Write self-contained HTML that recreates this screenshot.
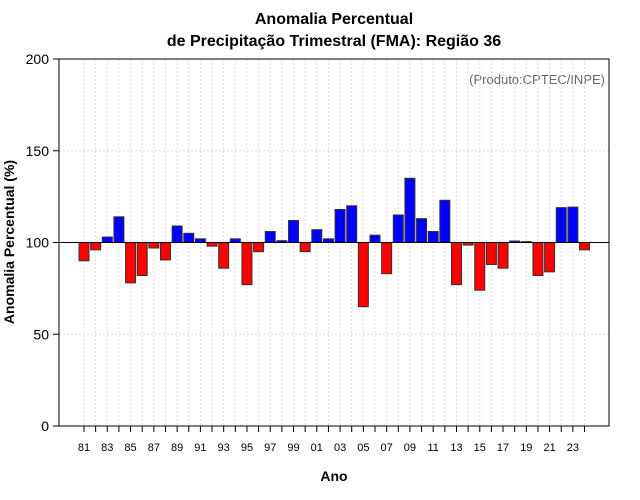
<!DOCTYPE html>
<html><head><meta charset="utf-8"><style>
body{margin:0;background:#fff}
svg{display:block;font-family:"Liberation Sans",sans-serif}
</style></head><body>
<svg id="chart" width="640" height="500">
<text x="334" y="24" text-anchor="middle" font-size="16" font-weight="bold">Anomalia Percentual</text>
<text x="334" y="46" text-anchor="middle" font-size="16" font-weight="bold">de Precipitação Trimestral (FMA): Região 36</text>
<text x="605" y="84" text-anchor="end" font-size="13" fill="#666">(Produto:CPTEC/INPE)</text>
<text x="334" y="481" text-anchor="middle" font-size="14" font-weight="bold">Ano</text>
<text transform="translate(14,242) rotate(-90)" text-anchor="middle" font-size="14" font-weight="bold">Anomalia Percentual (%)</text>
<g id="grid"></g><g id="bars"></g><g id="axes"></g>
</svg>
<script>
const years=[];for(let y=1981;y<=2024;y++)years.push(y);
const values=[90,96,103,114,78,82,97,90.5,109,105,102,98,86,102,77,95,106,101,112,95,107,102,118,120,65,104,83,115,135,113,106,123,77,98.6,74,88,86,100.8,100.5,82,84,119,119.3,96];
const yTicks=[0,50,100,150,200];
const NS="http://www.w3.org/2000/svg";
const L=59,R=609,T=59,B=426;
const ys=v=>B-(v/200)*(B-T);
const xs=i=>84+(i)*11.64;
function mk(tag,attrs,parent){const e=document.createElementNS(NS,tag);for(const k in attrs)e.setAttribute(k,attrs[k]);parent.appendChild(e);return e;}
const grid=document.getElementById('grid'),bars=document.getElementById('bars'),axes=document.getElementById('axes');
years.forEach((y,i)=>{const g=mk('line',{x1:xs(i),x2:xs(i),y1:T,y2:B,stroke:'#ddd','stroke-dasharray':'2,2'},grid);

});
yTicks.forEach(t=>{if(t>0&&t<200){const g=mk('line',{x1:L,x2:R,y1:ys(t),y2:ys(t),stroke:'#ddd','stroke-dasharray':'2,2'},grid);

}
const tk=mk('line',{x1:L-6,x2:L,y1:ys(t),y2:ys(t),stroke:'#000'},axes);


const tx=mk('text',{x:L-10,y:ys(t)+5,'text-anchor':'end','font-size':'14'},axes);tx.textContent=t;

});
values.forEach((v,i)=>{const y0=ys(100),y1=ys(v);
const r=mk('rect',{x:xs(i)-5,y:Math.min(y0,y1),width:10,height:Math.max(1,Math.abs(y1-y0)),fill:v>=100?'#0000ff':'#ff0000',stroke:'#333','stroke-width':1},bars);

});
const base=mk('line',{x1:L,x2:R,y1:ys(100),y2:ys(100),stroke:'#000'},axes);


const box=mk('rect',{x:L,y:T,width:R-L,height:B-T,fill:'none',stroke:'#000'},axes);


years.forEach((y,i)=>{const tk=mk('line',{x1:xs(i),x2:xs(i),y1:B,y2:B+6,stroke:'#000'},axes);


if(i%2===0){const tx=mk('text',{x:xs(i),y:B+25,'text-anchor':'middle','font-size':'11'},axes);tx.textContent=String(y).slice(2);

}});
</script>
</body></html>
